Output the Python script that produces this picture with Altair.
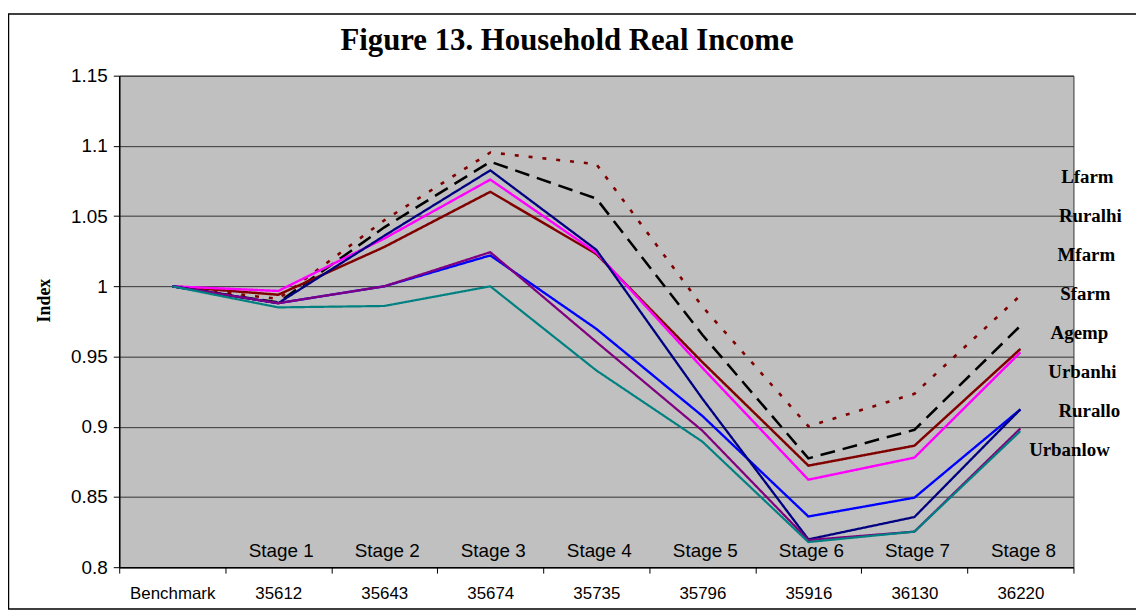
import altair as alt
import pandas as pd

# ---------------- data ----------------
categories = ["Benchmark", "35612", "35643", "35674", "35735", "35796", "35916", "36130", "36220"]
stage_labels = ["Stage 1", "Stage 2", "Stage 3", "Stage 4", "Stage 5", "Stage 6", "Stage 7", "Stage 8"]
series_names = ["Lfarm", "Ruralhi", "Mfarm", "Sfarm", "Agemp", "Urbanhi", "Rurallo", "Urbanlow"]

lfarm    = [1.0, 0.991, 1.047, 1.0953, 1.087, 0.9856, 0.9003, 0.9235, 0.9935]
ruralhi  = [1.0, 0.9885, 1.042, 1.0887, 1.0625, 0.9655, 0.8775, 0.8978, 0.9719]
mfarm    = [1.0, 0.994, 1.028, 1.0673, 1.023, 0.946, 0.8723, 0.8865, 0.9554]
sfarm    = [1.0, 0.9967, 1.034, 1.076, 1.024, 0.942, 0.8623, 0.878, 0.953]
agemp    = [1.0, 0.988, 1.0, 1.022, 0.9697, 0.9077, 0.8361, 0.8495, 0.9124]
urbanhi  = [1.0, 0.988, 1.036, 1.0826, 1.026, 0.92, 0.8198, 0.8357, 0.9124]
rurallo  = [1.0, 0.988, 1.0, 1.0243, 0.9604, 0.8972, 0.8193, 0.8253, 0.8988]
urbanlow = [1.0, 0.985, 0.986, 1.0, 0.9401, 0.8894, 0.8179, 0.8253, 0.8969]

y_ticks = [0.8, 0.85, 0.9, 0.95, 1.0, 1.05, 1.1, 1.15]
title_text = "Figure 13. Household Real Income"

# ---------------- styles ----------------
colors = {"Lfarm": "#800000", "Ruralhi": "#000000", "Mfarm": "#800000", "Sfarm": "#FF00FF",
          "Agemp": "#0000FF", "Urbanhi": "#000080", "Rurallo": "#800080", "Urbanlow": "#008080"}
dashes = {"Lfarm": [4, 10], "Ruralhi": [15, 8], "Mfarm": [1, 0], "Sfarm": [1, 0],
          "Agemp": [1, 0], "Urbanhi": [1, 0], "Rurallo": [1, 0], "Urbanlow": [1, 0]}
widths = {"Lfarm": 2.6, "Ruralhi": 2.2, "Mfarm": 2.2, "Sfarm": 2.2,
          "Agemp": 2.2, "Urbanhi": 2.2, "Rurallo": 2.2, "Urbanlow": 2.2}
# series label layout (plot-area pixel coords: center x, baseline y)
label_x = {"Lfarm": 975, "Ruralhi": 978, "Mfarm": 974, "Sfarm": 973,
           "Agemp": 967, "Urbanhi": 970, "Rurallo": 977, "Urbanlow": 957}
label_y0, label_step = 108, 39.3

W, H = 961, 495
SANS = "Liberation Sans"
SERIF = "Liberation Serif"

# ---------------- build ----------------
all_series = [lfarm, ruralhi, mfarm, sfarm, agemp, urbanhi, rurallo, urbanlow]
rows = []
for name, vals in zip(series_names, all_series):
    for c, v in zip(categories, vals):
        rows.append({"cat": c, "series": name, "value": v})
df = pd.DataFrame(rows)

draw_order = ["Urbanlow", "Rurallo", "Urbanhi", "Agemp", "Sfarm", "Mfarm", "Ruralhi", "Lfarm"]

x_enc = alt.X("cat:N", sort=categories,
              scale=alt.Scale(type="band", paddingInner=0, paddingOuter=0),
              bandPosition=0.5,
              axis=alt.Axis(title=None, labelAngle=0, labelFont=SANS, labelFontSize=17,
                            labelColor="black", tickBand="extent", ticks=True, tickSize=6,
                            tickColor="black", domainColor="black", domainWidth=1.5,
                            labelPadding=13, grid=False))

y_enc = alt.Y("value:Q",
              scale=alt.Scale(domain=[0.8, 1.15], nice=False, zero=False),
              axis=alt.Axis(values=y_ticks, format="~g", grid=True, gridColor="#333333",
                            gridWidth=1, labelFont=SANS, labelFontSize=19, labelColor="black",
                            tickSize=6, tickColor="black", domainColor="black", domainWidth=1.5,
                            labelPadding=6, title="Index", titleFont=SERIF, titleFontWeight="bold",
                            titleFontSize=18, titleColor="black", titleAngle=-90, titleX=-75,
                            titleY=226, titleAlign="center", titleBaseline="middle"))

lines = alt.Chart(df).mark_line().encode(
    x=x_enc,
    y=y_enc,
    color=alt.Color("series:N", scale=alt.Scale(domain=series_names,
                    range=[colors[s] for s in series_names]), legend=None),
    strokeDash=alt.StrokeDash("series:N", scale=alt.Scale(domain=series_names,
                    range=[dashes[s] for s in series_names]), legend=None),
    strokeWidth=alt.StrokeWidth("series:N", scale=alt.Scale(domain=series_names,
                    range=[widths[s] for s in series_names]), legend=None),
    order=alt.Order("ord:Q"),
    detail="series:N",
).transform_calculate(
    ord="indexof(" + str(draw_order) + ", datum.series)"
)

stage_df = pd.DataFrame({"cat": categories[1:], "stage": stage_labels})
stages = alt.Chart(stage_df).mark_text(font=SANS, fontSize=19, color="black",
                                       baseline="alphabetic", align="center", dx=3).encode(
    x=alt.X("cat:N", sort=categories, bandPosition=0.5),
    y=alt.value(485),
    text="stage:N",
)

one = pd.DataFrame({"t": [title_text]})
border = alt.Chart(one).mark_rect(fillOpacity=0, stroke="black", strokeWidth=1.5).encode(
    x=alt.value(-111.5), x2=alt.value(1040), y=alt.value(-62), y2=alt.value(537))

title = alt.Chart(one).mark_text(font=SERIF, fontSize=31, fontWeight="bold", color="black",
                                 align="center", baseline="middle").encode(
    x=alt.value(451), y=alt.value(-35), text="t:N")

label_layers = []
for i, name in enumerate(series_names):
    label_layers.append(
        alt.Chart(pd.DataFrame({"t": [name]})).mark_text(
            font=SERIF, fontSize=19, fontWeight="bold", color="black",
            align="center", baseline="alphabetic").encode(
            x=alt.value(label_x[name]), y=alt.value(label_y0 + label_step * i), text="t:N")
    )

chart = alt.layer(border, lines, stages, title, *label_layers).properties(
    width=W, height=H,
    autosize=alt.AutoSizeParams(type="none"),
    padding={"left": 112, "top": 66, "right": 63, "bottom": 44},
    background="white",
).configure_view(fill="#C0C0C0", stroke="#333333", strokeWidth=1)

chart.save("out.html", embed_options={"renderer": "svg", "actions": False})
